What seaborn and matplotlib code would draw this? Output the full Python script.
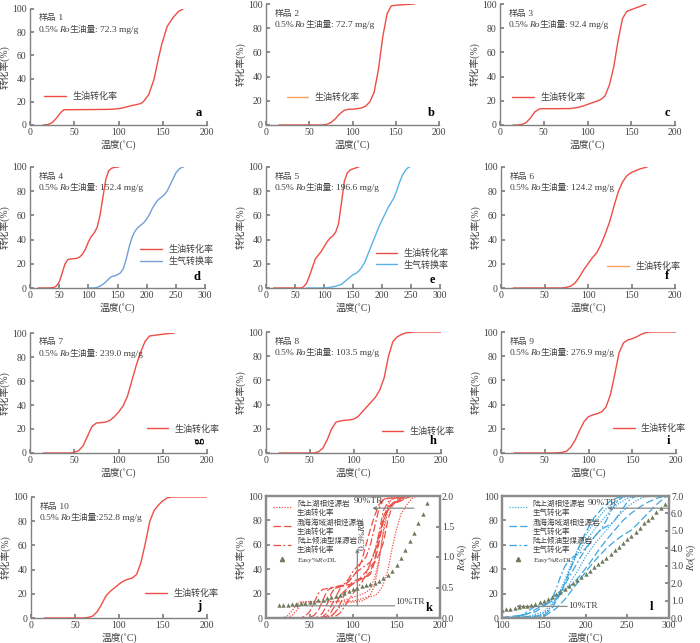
import numpy as np
import pandas as pd
import matplotlib
matplotlib.use("Agg")
import matplotlib.pyplot as plt
import seaborn as sns
from matplotlib.lines import Line2D
from matplotlib.offsetbox import TextArea, HPacker, VPacker, AnchoredOffsetbox

# ----------------------------
# 1. DATA
# ----------------------------
names = ["样品 1", "样品 2", "样品 3", "样品 4", "样品 5",
         "样品 6", "样品 7", "样品 8", "样品 9", "样品 10"]
yields = [": 72.3 mg/g", ": 72.7 mg/g", ": 92.4 mg/g", ": 152.4 mg/g", ": 196.6 mg/g",
          ": 124.2 mg/g", ": 239.0 mg/g", ": 103.5 mg/g", ": 276.9 mg/g", ":252.8 mg/g"]
letters = ["a", "b", "c", "d", "e", "f", "g", "h", "i", "j"]

# oil conversion (temperature in C, conversion in %)
t1 = [15, 20, 25, 30, 35, 38, 40, 50, 60, 70, 80, 90, 100, 105, 110, 115, 120, 125, 128, 134, 140, 145, 149, 155, 162, 168, 173]
v1 = [0, 0.3, 2, 6, 11, 13, 13.2, 13.2, 13.3, 13.3, 13.4, 13.5, 14, 14.8, 15.8, 16.8, 17.5, 18.5, 20, 26, 39, 57, 70, 85, 93, 98, 100]
t2 = [15, 30, 50, 65, 70, 75, 80, 85, 90, 95, 100, 105, 110, 115, 120, 125, 130, 135, 140, 145, 150, 160, 172]
v2 = [0, 0, 0, 0, 0.5, 2, 5, 9, 12, 13, 13, 13.5, 14, 15.5, 19, 27, 46, 73, 92, 98.5, 99, 99.5, 100]
t3 = [15, 20, 25, 30, 35, 40, 45, 50, 60, 70, 80, 85, 90, 95, 100, 105, 110, 115, 120, 125, 130, 135, 140, 145, 150, 155, 160, 167]
v3 = [0, 0, 0.5, 2, 6, 11, 13.3, 13.5, 13.5, 13.5, 13.6, 14, 14.7, 15.7, 17, 18.3, 19.5, 21, 24, 33, 48, 70, 88, 94, 95.3, 96.7, 98, 100]
t4 = [14, 30, 40, 45, 50, 55, 60, 65, 70, 80, 85, 90, 95, 100, 105, 110, 115, 120, 125, 130, 135, 140, 145, 152]
v4 = [0, 0, 0.3, 1.5, 5, 12, 20, 23.5, 24, 24.5, 25.5, 28, 32, 38, 42.5, 45.5, 50, 60, 75, 90, 97, 99, 99.7, 100]
t5 = [13, 40, 60, 65, 70, 75, 80, 85, 90, 95, 100, 105, 110, 115, 120, 125, 130, 135, 140, 145, 150, 155, 160]
v5 = [0, 0, 0, 1, 4, 10, 17, 24, 27, 30, 34, 38, 41, 43, 46, 53, 70, 88, 95, 97.5, 98.5, 99.3, 100]
t6 = [14, 40, 60, 70, 75, 80, 85, 90, 95, 100, 105, 110, 115, 120, 125, 130, 135, 140, 145, 150, 155, 160, 168]
v6 = [0, 0, 0, 0, 0.5, 1.5, 4, 9, 15, 20, 25, 29, 36, 45, 55, 68, 80, 88, 93, 95.5, 97, 98.5, 100]
t7 = [15, 30, 45, 50, 55, 60, 65, 70, 75, 80, 85, 90, 95, 100, 105, 110, 115, 120, 125, 130, 135, 140, 150, 163]
v7 = [0, 0, 0, 0.5, 2, 6, 14, 22, 25, 25.3, 25.7, 27, 30, 34, 39, 47, 60, 73, 84, 93, 97.5, 98, 99, 100]
t8 = [15, 40, 55, 60, 65, 70, 75, 80, 85, 90, 95, 100, 105, 110, 115, 120, 125, 130, 135, 140, 145, 150, 155, 160, 170, 200]
v8 = [0, 0, 0, 1, 4, 11, 20, 25.5, 26.5, 27, 27.3, 28, 30, 34, 38, 42, 46, 52, 62, 80, 92, 96, 98, 99.3, 100, 100]
t9 = [15, 40, 60, 70, 75, 80, 85, 90, 95, 100, 105, 110, 115, 120, 125, 130, 135, 140, 145, 150, 155, 160, 165, 170, 200]
v9 = [0, 0, 0, 0.5, 1.5, 5, 11, 19, 26, 30, 31.5, 32.5, 34, 38, 48, 65, 83, 91, 93.5, 94.5, 96, 98, 99.3, 100, 100]
t10 = [15, 40, 60, 65, 70, 75, 80, 85, 90, 95, 100, 105, 110, 115, 120, 125, 130, 135, 140, 145, 150, 155, 160, 200]
v10 = [0, 0, 0, 0.5, 1.5, 5, 11, 18, 22, 25, 28, 30.5, 32, 33, 36, 46, 62, 80, 89, 93.5, 97, 99.3, 100, 100]

# gas conversion, samples 4 and 5
g4_t = [100, 110, 115, 120, 125, 130, 135, 140, 145, 150, 155, 160, 165, 170, 175, 180, 185, 190, 195, 200, 205, 210, 215, 220, 225, 230, 235, 240, 245, 250, 255, 260, 263]
g4_v = [0, 0, 0.5, 1.5, 3, 5, 7.5, 9.5, 10, 11, 12.5, 16, 24, 34, 42, 47, 50, 52, 54, 57, 61, 66, 70, 73, 75, 77, 80, 85, 90, 95, 98, 99.7, 100]
g5_t = [70, 100, 110, 120, 130, 140, 145, 150, 155, 160, 165, 170, 175, 180, 185, 190, 195, 200, 205, 210, 215, 220, 225, 230, 235, 240, 245, 248]
g5_v = [0, 0, 0.5, 1.5, 3, 7, 9, 11, 12, 14, 17, 21, 27, 33, 39, 45, 51, 56, 61, 66, 70, 74, 80, 87, 93, 97, 99.5, 100]

# other gas curves in panel l
ga_t = [100, 130, 150, 160, 170, 180, 190, 200, 210, 220, 230, 240, 250, 260, 300]
ga_v = [0, 0.5, 3, 10, 22, 38, 52, 63, 72, 80, 88, 94, 98, 100, 100]
gb_t = [100, 140, 155, 165, 175, 185, 195, 205, 215, 225, 235, 245, 255, 300]
gb_v = [0, 1, 6, 15, 30, 48, 62, 73, 82, 90, 95, 99, 100, 100]
gc_t = [100, 150, 160, 170, 180, 190, 200, 210, 220, 230, 240, 250, 300]
gc_v = [0, 2, 8, 20, 36, 55, 70, 82, 90, 96, 99, 100, 100]
gd_t = [100, 150, 165, 175, 185, 195, 205, 215, 225, 235, 245, 255, 265, 275, 285, 295, 300]
gd_v = [0, 1, 8, 15, 24, 33, 42, 50, 57, 63, 68, 72, 79, 86, 93, 99, 100]
ge_t = [100, 120, 140, 155, 165, 175, 185, 195, 205, 215, 225, 235, 245, 255, 265, 275, 285, 295]
ge_v = [0.5, 2, 5, 12, 20, 24, 28, 36, 45, 55, 64, 72, 80, 86, 91, 95, 98, 100]
gf_t = [100, 130, 150, 160, 170, 180, 190, 200, 210, 220, 230, 240, 250, 260, 270, 280, 300]
gf_v = [0, 1, 5, 12, 19, 27, 38, 50, 60, 68, 76, 84, 91, 96, 99, 100, 100]

# Easy%RoDL
ro_k_t = list(range(15, 190, 5))
ro_k = [0.21, 0.215, 0.22, 0.225, 0.23, 0.24, 0.25, 0.26, 0.27, 0.29, 0.30, 0.32, 0.34, 0.36, 0.38,
        0.41, 0.44, 0.47, 0.50, 0.52, 0.54, 0.56, 0.58, 0.61, 0.65, 0.70, 0.77, 0.87, 0.98, 1.11,
        1.26, 1.40, 1.55, 1.71, 1.88]
ro_l_t = list(range(100, 300, 5))
ro_l = [0.44, 0.49, 0.54, 0.58, 0.63, 0.67, 0.71, 0.77, 0.83, 0.90, 0.98, 1.09, 1.21, 1.35, 1.50,
        1.66, 1.82, 1.99, 2.17, 2.36, 2.55, 2.72, 2.90, 3.09, 3.28, 3.47, 3.67, 3.88, 4.09, 4.30,
        4.51, 4.73, 4.95, 5.19, 5.43, 5.62, 5.82, 6.06, 6.30, 6.55]

oil_t = [t1, t2, t3, t4, t5, t6, t7, t8, t9, t10]
oil_v = [v1, v2, v3, v4, v5, v6, v7, v8, v9, v10]

# group of each sample: 0 陆上湖相, 1 渤海海域湖相, 2 陆上倾油型煤
oil_group = [0, 0, 0, 2, 2, 2, 1, 1, 1, 1]
gas_curves = [(ga_t, ga_v, 0), (gb_t, gb_v, 0), (gf_t, gf_v, 0),
              (gc_t, gc_v, 1), (gd_t, gd_v, 1), (ge_t, ge_v, 1),
              (g4_t, g4_v, 2), (g5_t, g5_v, 2)]

# ----------------------------
# 2. STYLE
# ----------------------------
sns.set_theme(style="ticks")
plt.rcParams["font.family"] = ["Liberation Serif", "Noto Sans CJK SC"]
plt.rcParams.update({
    "mathtext.fontset": "stix",
    "font.size": 7,
    "axes.edgecolor": "#808080",
    "axes.linewidth": 1.0,
    "axes.labelcolor": "#404040",
    "xtick.direction": "in",
    "ytick.direction": "in",
    "xtick.color": "#808080",
    "ytick.color": "#808080",
    "xtick.labelcolor": "#404040",
    "ytick.labelcolor": "#404040",
    "xtick.labelsize": 7,
    "ytick.labelsize": 7,
    "xtick.major.size": 3,
    "ytick.major.size": 3,
    "xtick.major.pad": 2.5,
    "ytick.major.pad": 2.5,
    "axes.labelsize": 7,
})

RED = "#ee4d45"
ORANGE = "#f5a25d"
BLUE_D = "#729fd8"
BLUE_E = "#5ab2e6"
BLUE_L = "#3fa5de"
TXT = "#404040"
TRI = "#6f7a5c"

W, H = 700, 643
POS = {
    "a": (30, 9, 207, 125), "b": (266, 4, 439, 125), "c": (500, 4, 675, 125),
    "d": (30, 167, 205, 288), "e": (266, 167, 440, 288), "f": (501, 167, 675, 288),
    "g": (30, 333, 207, 453), "h": (266, 332, 441, 453), "i": (501, 332, 676, 453),
    "j": (31, 497, 207, 618), "k": (266, 496, 440, 618), "l": (502, 496, 669, 618),
}

fig = plt.figure(figsize=(W / 100, H / 100), dpi=100)


def add_ax(key):
    l, t, r, b = POS[key]
    return fig.add_axes([l / W, 1 - b / H, (r - l) / W, (b - t) / H])


def sample_note(ax, name, ytxt):
    tp = dict(fontsize=6.8, color=TXT)
    cjk = dict(fontsize=6.3, color=TXT)
    line2 = HPacker(children=[TextArea("0.5%", textprops=tp),
                              TextArea("Ro", textprops=dict(tp, style="italic")),
                              TextArea("生油量", textprops=cjk),
                              TextArea(ytxt, textprops=tp)],
                    pad=0, sep=0, align="baseline")
    line1 = HPacker(children=[TextArea(name[:2], textprops=cjk), TextArea(name[2:], textprops=tp)],
                    pad=0, sep=0, align="baseline")
    box = VPacker(children=[line1, line2], pad=0, sep=2.5, align="left")
    ab = AnchoredOffsetbox(loc="upper left", child=box, bbox_to_anchor=(0.05, 0.955),
                           bbox_transform=ax.transAxes, frameon=False, pad=0, borderpad=0)
    ax.add_artist(ab)


# ----------------------------
# 3. SINGLE SAMPLE PANELS
# ----------------------------
# legend anchor (axes fraction) per panel
leg_anchor = [(0.08, 0.245), (0.12, 0.23), (0.07, 0.23), (0.63, 0.27), (0.63, 0.24),
              (0.61, 0.18), (0.66, 0.20), (0.66, 0.18), (0.64, 0.20), (0.65, 0.20)]
letter_y = [0.1, 0.1, 0.1, 0.09, 0.07, 0.1, 0.1, 0.1, 0.1, 0.1]

for i in range(10):
    ax = add_ax(letters[i])
    sns.lineplot(x=oil_t[i], y=oil_v[i], ax=ax, color=RED, lw=1.0, legend=False)
    handles = [Line2D([], [], color=ORANGE if letters[i] in ("b", "f") else RED, lw=1.0)]
    labels = ["生油转化率"]
    xmax = 200
    if i == 3 or i == 4:
        gt, gv = (g4_t, g4_v) if i == 3 else (g5_t, g5_v)
        gc = BLUE_D if i == 3 else BLUE_E
        sns.lineplot(x=gt, y=gv, ax=ax, color=gc, lw=1.0, legend=False)
        handles.append(Line2D([], [], color=gc, lw=1.0))
        labels.append("生气转换率")
        xmax = 300
    ax.set_xlim(0, xmax)
    ax.set_ylim(0, 100)
    ax.set_xticks(np.arange(0, xmax + 1, 50))
    ax.set_yticks(np.arange(0, 101, 20))
    ax.set_xlabel("温度(˚C)", labelpad=1.5)
    ax.set_ylabel("转化率(%)", labelpad=2)
    sns.despine(ax=ax)
    ax.legend(handles, labels, loc="center left", bbox_to_anchor=leg_anchor[i], frameon=False,
              fontsize=6.5, handlelength=2.4, handletextpad=0.7, borderpad=0, borderaxespad=0,
              labelspacing=0.3, labelcolor=TXT)
    sample_note(ax, names[i], yields[i])
    rot = 90 if letters[i] == "g" else 0
    ax.text(0.955, letter_y[i], letters[i], transform=ax.transAxes, fontsize=9, fontweight="bold",
            ha="center", va="center", color="black", rotation=rot)

# ----------------------------
# 4. SUMMARY PANELS k AND l
# ----------------------------
dash_styles = [(0, (1, 1.2)), (0, (6, 2.5)), (0, (6, 2, 1.5, 2))]
oil_labels = ["陆上湖相烃源岩\n生油转化率", "渤海海域湖相烃源岩\n生油转化率", "陆上倾油型煤源岩\n生油转化率"]
gas_labels = ["陆上湖相烃源岩\n生气转化率", "渤海海域湖相烃源岩\n生气转化率", "陆上倾油型煤源岩\n生气转化率"]


def summary_panel(key, curves, ro_t, ro_v, color, labels, xlim, rolim, roticks, rofmt, ann):
    ax = add_ax(key)
    for t, v, g in curves:
        sns.lineplot(x=t, y=v, ax=ax, color=color, lw=0.9, legend=False, linestyle=dash_styles[g])
    ax.set_xlim(*xlim)
    ax.set_ylim(0, 100)
    ax.set_xticks(np.arange(xlim[0], xlim[1] + 1, 50))
    ax.set_yticks(np.arange(0, 101, 20))
    ax.set_xlabel("温度(˚C)", labelpad=1.5)
    ax.set_ylabel("转化率(%)", labelpad=2)
    for s in ax.spines.values():
        s.set_linewidth(1.6)
        s.set_color("#8c8c8c")
    ax2 = ax.twinx()
    sns.scatterplot(x=ro_t, y=ro_v, ax=ax2, marker="^", color=TRI, s=10, linewidth=0, legend=False)
    ax2.set_ylim(*rolim)
    ax2.set_yticks(roticks)
    ax2.set_yticklabels([rofmt.format(r) for r in roticks])
    ax2.set_ylabel(r"$Ro$(%)", labelpad=0.5)
    ax2.tick_params(axis="y", direction="in", pad=1.5)
    for s in ax2.spines.values():
        s.set_linewidth(1.6)
        s.set_color("#8c8c8c")

    handles = [Line2D([], [], color=color, lw=0.9, linestyle=dash_styles[g]) for g in range(3)]
    handles.append(Line2D([], [], color=TRI, marker="^", markersize=3, linestyle="none"))
    leg = ax.legend(handles, labels + [r"Easy%$Ro$DL"], loc="upper left", bbox_to_anchor=(0.04, 0.975),
                    frameon=False, fontsize=5.4, handlelength=2.4, handletextpad=0.8, borderpad=0,
                    borderaxespad=0, labelspacing=0.3, labelcolor=TXT)
    leg.set_zorder(5)

    # TR / Ro guide lines
    gray = "#8a8a8a"
    for (x0, y0, x1, y1) in ann["arrows"]:
        ax.annotate("", xy=(x0, y0), xytext=(x1, y1),
                    arrowprops=dict(arrowstyle="-|>", ec=gray, fc="black", lw=0.9, mutation_scale=5,
                                    shrinkA=0, shrinkB=0))
    for (x, y, s, rot, ha) in ann["texts"]:
        ax.text(x, y, s, fontsize=6.8, color=TXT, rotation=rot, ha=ha, va="center")
    ax.text(ann["letter"][0], ann["letter"][1], key, fontsize=9, fontweight="bold",
            ha="center", va="center", color="black")
    return ax


ann_k = {
    "arrows": [(122, 90, 170, 90), (32, 10, 148, 10), (105, 57, 105, 10)],
    "texts": [(118, 96, "90%TR", 0, "center"), (148, 13, "10%TR", 0, "left"),
              (110, 68, r"0.5%$Ro$", 90, "center")],
    "letter": (188, 8),
}
ann_l = {
    "arrows": [(226, 90, 300, 90), (117, 9.5, 178, 9.5)],
    "texts": [(220, 94.5, "90%TR", 0, "center"), (179, 9.5, "10%TR", 0, "left")],
    "letter": (279, 9),
}

oil_curves = [(oil_t[i], oil_v[i], oil_group[i]) for i in range(10)]
summary_panel("k", oil_curves, ro_k_t, ro_k, RED, oil_labels, (0, 200), (0, 2.0),
              [0.0, 0.5, 1.0, 1.5, 2.0], "{:.1f}", ann_k)
summary_panel("l", gas_curves, ro_l_t, ro_l, BLUE_L, gas_labels, (100, 300), (0, 7.0),
              [0, 1, 2, 3, 4, 5, 6, 7], "{:.1f}", ann_l)

fig.savefig("out.png", dpi=100)
